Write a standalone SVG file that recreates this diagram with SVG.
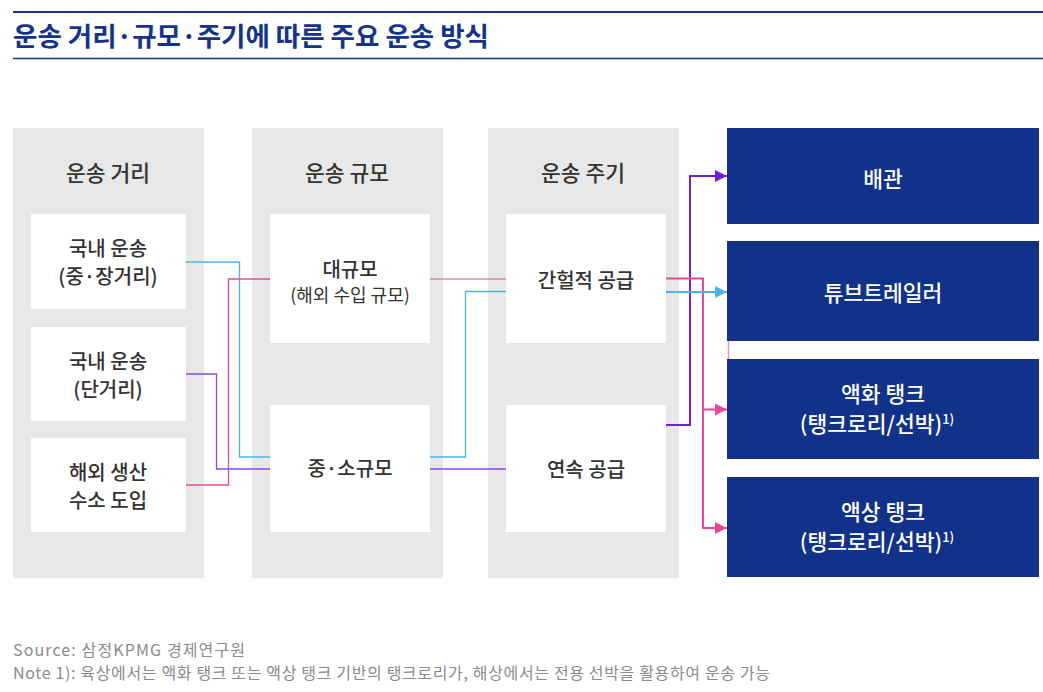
<svg xmlns="http://www.w3.org/2000/svg" width="1043" height="692" viewBox="0 0 1043 692">
<style>
text{font-family:"Noto Sans CJK KR","Noto Sans",sans-serif}
.col{fill:#e8e8e8}
.box{fill:#ffffff}
.nav{fill:#12328a}
.h{font-size:21.5px;fill:#333;text-anchor:middle;font-weight:500}
.t{font-size:20px;fill:#333;text-anchor:middle;font-weight:500}
.s{font-size:18px;fill:#333;text-anchor:middle}
.w{font-size:21.5px;fill:#fff;text-anchor:middle;font-weight:500}
.f{font-size:16px;fill:#8a8a8a}
.ln{fill:none;stroke-width:1.3}
.lr{fill:none;stroke-width:2}
.pk{stroke:#e8479a}
.bl{stroke:#4ab4ea}
.pu{stroke:#8a4ae6}
.pu2{stroke:#6a22e0}
</style>
<defs>
<marker id="apk" markerWidth="12" markerHeight="12" refX="12" refY="6" orient="auto" markerUnits="userSpaceOnUse"><path d="M0,0 L12,6 L0,12 Z" fill="#e8479a"/></marker>
<marker id="abl" markerWidth="12" markerHeight="12" refX="12" refY="6" orient="auto" markerUnits="userSpaceOnUse"><path d="M0,0 L12,6 L0,12 Z" fill="#4ab4ea"/></marker>
<marker id="apu" markerWidth="12" markerHeight="12" refX="12" refY="6" orient="auto" markerUnits="userSpaceOnUse"><path d="M0,0 L12,6 L0,12 Z" fill="#6a22e0"/></marker>
</defs>
<rect width="1043" height="692" fill="#fff"/>
<g id="title">
<line x1="13" y1="12" x2="1043" y2="12" stroke="#14338a" stroke-width="2"/>
<text x="13" y="46" style="font-size:26.5px;font-weight:bold;fill:#14338a">운송 거리·규모·주기에 따른 주요 운송 방식</text>
<line x1="13" y1="58.5" x2="1043" y2="58.5" stroke="#14338a" stroke-width="1.5"/>
</g>
<g id="col-distance">
<rect class="col" x="13" y="128" width="191" height="450"/>
<text class="h" x="108" y="181">운송 거리</text>
</g>
<g id="col-scale">
<rect class="col" x="252" y="128" width="191" height="450"/>
<text class="h" x="347" y="181">운송 규모</text>
</g>
<g id="col-cycle">
<rect class="col" x="488" y="128" width="191" height="450"/>
<text class="h" x="583" y="181">운송 주기</text>
</g>
<g id="connectors">
<polyline class="ln bl" points="186,262 239.5,262 239.5,457 270,457"/>
<polyline class="ln pk" points="186,485 228.5,485 228.5,279 270,279"/>
<polyline class="ln pu" points="186,374 216.5,374 216.5,469 270,469"/>
<line class="ln pk" x1="430" y1="279" x2="506" y2="279" opacity="0.65"/>
<polyline class="ln bl" points="430,457 465.5,457 465.5,291.5 506,291.5"/>
<line class="ln pu" x1="430" y1="469" x2="506" y2="469"/>
<line x1="728.5" y1="274" x2="728.5" y2="446" stroke="#e8479a" stroke-width="1.5" opacity="0.6"/>
<polyline class="lr pu2" points="666,425 690,425 690,176 727,176" marker-end="url(#apu)"/>
<polyline class="lr pk" points="666,278.5 703,278.5 703,528 727,528" marker-end="url(#apk)"/>
<line class="lr pk" x1="703" y1="409.5" x2="727" y2="409.5" marker-end="url(#apk)"/>
<line class="lr bl" x1="666" y1="292" x2="727" y2="292" marker-end="url(#abl)"/>
</g>
<g id="n-domestic-long">
<rect class="box" x="31" y="214" width="155" height="95"/>
<text class="t" x="108" y="256">국내 운송</text>
<text class="t" x="108" y="284">(중·장거리)</text>
</g>
<g id="n-domestic-short">
<rect class="box" x="31" y="327" width="155" height="94"/>
<text class="t" x="108" y="369">국내 운송</text>
<text class="t" x="108" y="397">(단거리)</text>
</g>
<g id="n-import">
<rect class="box" x="31" y="438" width="155" height="94"/>
<text class="t" x="108" y="480">해외 생산</text>
<text class="t" x="108" y="508">수소 도입</text>
</g>
<g id="n-large">
<rect class="box" x="270" y="214" width="160" height="129"/>
<text class="t" x="350" y="277">대규모</text>
<text class="s" x="350" y="302">(해외 수입 규모)</text>
</g>
<g id="n-small">
<rect class="box" x="270" y="405" width="160" height="127"/>
<text class="t" x="350" y="476">중·소규모</text>
</g>
<g id="n-intermittent">
<rect class="box" x="506" y="214" width="160" height="129"/>
<text class="t" x="586" y="288">간헐적 공급</text>
</g>
<g id="n-continuous">
<rect class="box" x="506" y="405" width="160" height="127"/>
<text class="t" x="586" y="477">연속 공급</text>
</g>
<g id="n-pipe">
<rect class="nav" x="727" y="128" width="312" height="96"/>
<text class="w" x="883" y="187">배관</text>
</g>
<g id="n-tube">
<rect class="nav" x="727" y="241" width="312" height="100"/>
<text class="w" x="883" y="301">튜브트레일러</text>
</g>
<g id="n-liquefied">
<rect class="nav" x="727" y="359" width="312" height="100"/>
<text class="w" x="883" y="402">액화 탱크</text>
<text class="w" x="877" y="432">(탱크로리/선박)<tspan dy="-8" style="font-size:13px">1)</tspan></text>
</g>
<g id="n-liquid">
<rect class="nav" x="727" y="477" width="312" height="100"/>
<text class="w" x="883" y="520">액상 탱크</text>
<text class="w" x="877" y="550">(탱크로리/선박)<tspan dy="-8" style="font-size:13px">1)</tspan></text>
</g>
<g id="footer">
<text class="f" x="13" y="656" textLength="232" lengthAdjust="spacing">Source: 삼정KPMG 경제연구원</text>
<text class="f" x="13" y="679" textLength="757" lengthAdjust="spacing">Note 1): 육상에서는 액화 탱크 또는 액상 탱크 기반의 탱크로리가, 해상에서는 전용 선박을 활용하여 운송 가능</text>
</g>
</svg>
